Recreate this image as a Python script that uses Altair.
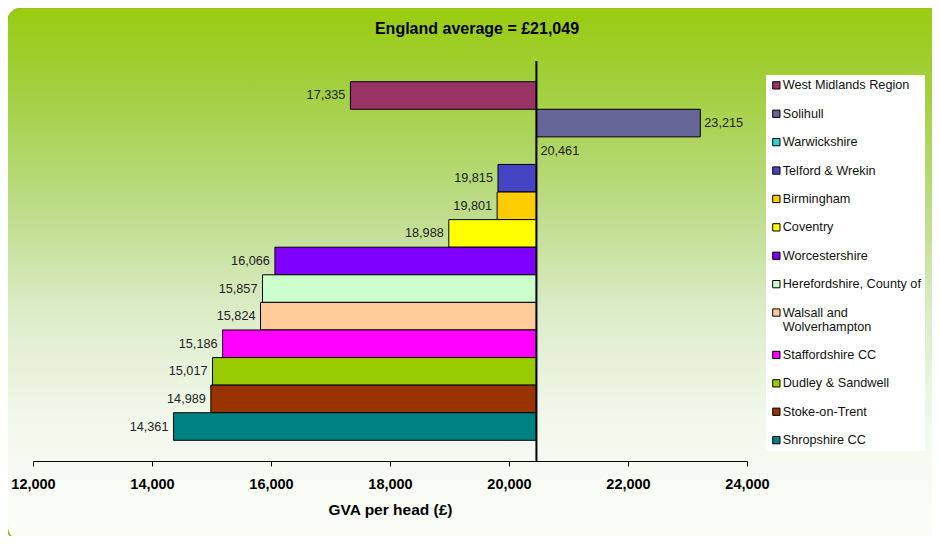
import altair as alt
import pandas as pd

# ---- data ----
regions = [
    "West Midlands Region", "Solihull", "Warwickshire", "Telford & Wrekin",
    "Birmingham", "Coventry", "Worcestershire", "Herefordshire, County of",
    "Walsall and Wolverhampton", "Staffordshire CC", "Dudley & Sandwell",
    "Stoke-on-Trent", "Shropshire CC",
]
gva = [17335, 23215, 20461, 19815, 19801, 18988, 16066, 15857, 15824,
       15186, 15017, 14989, 14361]
colors = ["#993366", "#666699", "#33CCCC", "#4444C4", "#FFCC00", "#FFFF00",
          "#8000FF", "#CCFFCC", "#FFCC99", "#FF00FF", "#99CC00", "#993300",
          "#008080"]
x_ticks = [12000, 14000, 16000, 18000, 20000, 22000, 24000]
axis_cross = 20461
title_text = "England average = £21,049"
x_title = "GVA per head (£)"

df = pd.DataFrame({"region": regions, "gva": gva})

W, H = 714, 400
FONT = "Liberation Sans"

gradient = alt.LinearGradient(
    gradient="linear", x1=0, x2=0, y1=0, y2=1,
    stops=[
        alt.GradientStop(offset=0, color="#99CC0F"),
        alt.GradientStop(offset=0.15, color="#A2CF3E"),
        alt.GradientStop(offset=0.38, color="#BEDC8A"),
        alt.GradientStop(offset=0.58, color="#DDEDCB"),
        alt.GradientStop(offset=0.78, color="#F3F8EC"),
        alt.GradientStop(offset=1, color="#FCFDFA"),
    ],
)

bg = alt.Chart(alt.Data(values=[{}])).mark_rect(
    cornerRadius=16, fill=gradient, stroke="#99C31A", strokeWidth=2
).encode(
    x=alt.value(-26), x2=alt.value(W + 220),
    y=alt.value(-53), y2=alt.value(H + 81),
)

base = alt.Chart(df)
y_enc = alt.Y("region:N", sort=regions,
              scale=alt.Scale(paddingInner=0, paddingOuter=0.75), axis=None)
x_scale = alt.Scale(domain=[12000, 24000], nice=False)

legend = alt.Legend(
    orient="none", legendX=733, legendY=14, title=None,
    fillColor="white", padding=4, symbolType="square", symbolSize=53,
    symbolStrokeColor="black", symbolStrokeWidth=1,
    labelFont=FONT, labelFontSize=12.7, labelColor="#111111",
    labelOffset=0, rowPadding=14.4, labelLimit=300,
    labelExpr="datum.label == 'Walsall and Wolverhampton' ? ['Walsall and', 'Wolverhampton'] : datum.label",
)

bars = base.mark_bar(stroke="black", strokeWidth=1).encode(
    x=alt.X("gva:Q", scale=x_scale,
            axis=alt.Axis(values=x_ticks, format=",.0f", title=x_title,
                          grid=False, zindex=2, labelFlush=False)),
    x2=alt.datum(axis_cross),
    y=y_enc,
    color=alt.Color("region:N", scale=alt.Scale(domain=regions, range=colors),
                    legend=legend),
)

rule = alt.Chart(alt.Data(values=[{}])).mark_rule(
    color="black", strokeWidth=2
).encode(x=alt.datum(axis_cross))

lab_left = base.transform_filter(alt.datum.gva < axis_cross).mark_text(
    align="right", dx=-5, font=FONT, fontSize=12.7, color="#222222"
).encode(x=alt.X("gva:Q"), y=y_enc, text=alt.Text("gva:Q", format=",.0f"))

lab_right = base.transform_filter(alt.datum.gva >= axis_cross).mark_text(
    align="left", dx=4, font=FONT, fontSize=12.7, color="#222222"
).encode(x=alt.X("gva:Q"), y=y_enc, text=alt.Text("gva:Q", format=",.0f"))

title_mark = alt.Chart(alt.Data(values=[{}])).mark_text(
    text=title_text, font=FONT, fontSize=16, fontWeight="bold",
    color="black", baseline="middle", align="center"
).encode(x=alt.value(444), y=alt.value(-32))

chart = alt.layer(bg, bars, rule, lab_left, lab_right, title_mark).properties(
    width=W, height=H,
    autosize=alt.AutoSizeParams(type="none"),
    padding={"left": 25, "top": 53, "right": 185, "bottom": 75},
).configure_view(stroke=None).configure_axis(
    labelFont=FONT, labelFontSize=14.5, labelFontWeight="bold", labelColor="black",
    titleFont=FONT, titleFontSize=15.5, titleFontWeight="bold", titleColor="black",
    tickColor="black", domainColor="black", tickSize=5,
    labelPadding=11, titlePadding=12,
)

chart.save("out.html", embed_options={"renderer": "svg", "actions": False})
